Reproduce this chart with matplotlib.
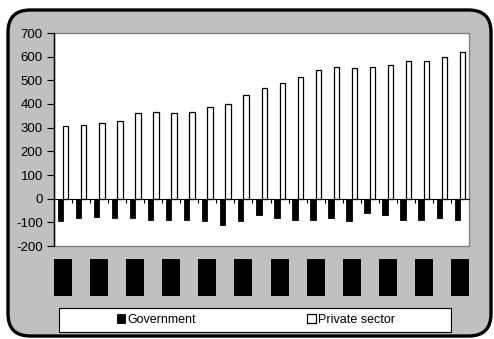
import matplotlib.pyplot as plt
from matplotlib.patches import FancyBboxPatch, Rectangle
from matplotlib.transforms import blended_transform_factory
import numpy as np

plt.rcParams["font.family"] = ["Liberation Sans", "DejaVu Sans"]

government = [-96, -82, -76, -82, -82, -90, -90, -90, -96, -110, -96, -68,
              -82, -90, -90, -82, -96, -62, -70, -90, -90, -82, -90]
private_sector = [305, 313, 320, 327, 360, 367, 360, 367, 388, 400, 440, 467,
                  488, 515, 545, 557, 552, 557, 565, 583, 583, 598, 618]
y_ticks = [-200, -100, 0, 100, 200, 300, 400, 500, 600, 700]

W, H = 494, 339
fig = plt.figure(figsize=(W / 100, H / 100), dpi=100)
fig.patch.set_facecolor("white")

# grey rounded panel behind everything
panel = FancyBboxPatch((8 / W, 3 / H), 483 / W, 326 / H,
                       boxstyle="round,pad=0,rounding_size=0.045",
                       transform=fig.transFigure, facecolor="#c0c0c0",
                       edgecolor="black", linewidth=2.4, zorder=-2,
                       mutation_aspect=W / H)
fig.patches.append(panel)

ax = fig.add_axes([54 / W, 1 - 246 / H, 415 / W, 213 / H])
ax.set_zorder(1)
ax.set_facecolor("white")

x = np.arange(len(private_sector))
bw = 0.3
ax.bar(x - bw / 2, government, bw, color="black", edgecolor="black",
       linewidth=0.6, label="Government", zorder=3)
ax.bar(x + bw / 2, private_sector, bw, color="white", edgecolor="black",
       linewidth=0.9, label="Private sector", zorder=3)

ax.set_xlim(-0.5, len(x) - 0.5)
ax.set_ylim(-200, 700)
ax.set_yticks(y_ticks)
ax.set_yticklabels([str(v) for v in y_ticks], fontsize=9.5)
ax.tick_params(axis="y", direction="out", length=5, width=0.8, pad=3)

# category axis sits on the zero line
ax.spines["bottom"].set_position(("data", 0))
ax.spines["bottom"].set_color("black")
ax.spines["bottom"].set_linewidth(0.8)
ax.spines["bottom"].set_zorder(4)
ax.set_xticks(x[:-1] + 0.5)
ax.set_xticklabels([])
ax.tick_params(axis="x", direction="out", length=3, width=0.8, color="black")
for s in ["top", "right"]:
    ax.spines[s].set_visible(False)
ax.spines["left"].set_color("black")
ax.spines["left"].set_linewidth(1.0)
ax.add_patch(Rectangle((0, 0), 1, 1, transform=ax.transAxes, fill=False,
                       edgecolor="#808080", linewidth=1.0, zorder=1,
                       clip_on=False))

# blacked-out category labels under the plot
trans = blended_transform_factory(ax.transData, fig.transFigure)
for i in x[::2]:
    fig.patches.append(Rectangle((i - 0.5, 1 - 296 / H), 1.0, 37 / H,
                                 transform=trans, facecolor="black",
                                 edgecolor="none", zorder=2))

# legend box
fig.patches.append(Rectangle((59 / W, 1 - 332 / H), 392 / W, 24 / H,
                             transform=fig.transFigure, facecolor="white",
                             edgecolor="black", linewidth=0.8, zorder=2))
handles, labels = ax.get_legend_handles_labels()
leg = fig.legend(handles, labels, loc="center", ncol=2, frameon=False,
                 bbox_to_anchor=(256 / W, 1 - 320 / H), fontsize=9,
                 handlelength=0.65, handleheight=0.65, handletextpad=0.2,
                 columnspacing=8.9)
leg.set_zorder(5)

fig.savefig("out.png", dpi=100, facecolor=fig.get_facecolor())
